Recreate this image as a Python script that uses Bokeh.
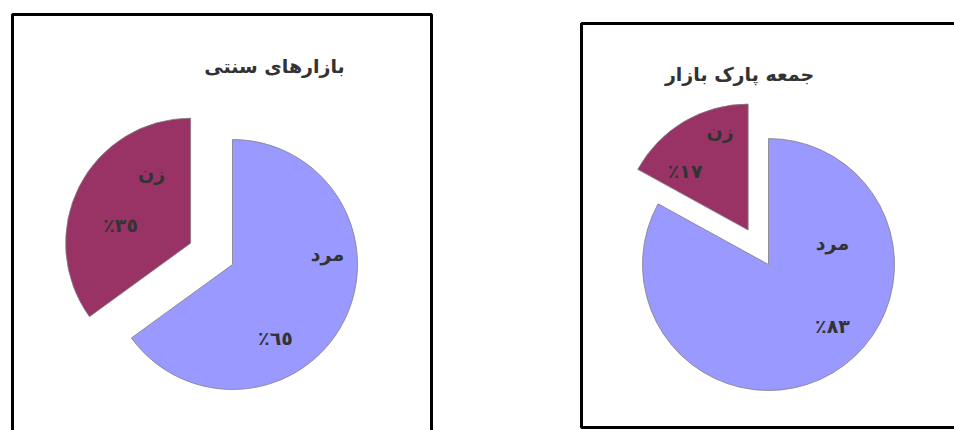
import math
from bokeh.plotting import figure
from bokeh.models import Range1d, ColumnDataSource
from bokeh.embed import file_html
from bokeh.resources import INLINE
from bokeh.core.properties import value

# ---- data ----
categories = ["مرد", "زن"]
traditional_values = [65, 35]
friday_values = [83, 17]
traditional_pct_labels = ["٪٦٥", "٪٣٥"]
friday_pct_labels = ["٪٨٣", "٪١٧"]
chart_titles = ["بازارهای سنتی", "جمعه پارک بازار"]

# ---- layout / style constants ----
W, H = 954, 430
colors = ["#9999FF", "#993366"]
FONT = value("DejaVu Sans")

charts = [
    dict(values=traditional_values, pcts=traditional_pct_labels, title=chart_titles[0],
         cx=232, cy=H - 264, r=125, explode=[0, 47],
         name_off=[(95, 11), (-39, 70)], pct_off=[(43, -73), (-70, 18)],
         title_xy=(274, H - 65),
         frame=(12, 431, H - 14, -10)),
    dict(values=friday_values, pcts=friday_pct_labels, title=chart_titles[1],
         cx=768, cy=H - 264, r=126, explode=[0, 40],
         name_off=[(64, 22), (-28, 99)], pct_off=[(64, -61), (-63, 59)],
         title_xy=(739, H - 73),
         frame=(581, 970, H - 23, H - 427)),
]

p = figure(width=W, height=H, x_range=Range1d(0, W), y_range=Range1d(0, H),
           output_backend="svg", toolbar_location=None, min_border=0,
           background_fill_color="white", border_fill_color="white")
p.axis.visible = False
p.xgrid.visible = False
p.ygrid.visible = False
p.outline_line_color = None

for ch in charts:
    vals = ch["values"]
    total = float(sum(vals))
    start = math.pi / 2
    wx, wy, sa, ea, fc = [], [], [], [], []
    tx, ty, tt = [], [], []
    for i, v in enumerate(vals):
        sweep = 2 * math.pi * v / total
        end = start - sweep
        mid = (start + end) / 2
        ox = ch["cx"] + ch["explode"][i] * math.cos(mid)
        oy = ch["cy"] + ch["explode"][i] * math.sin(mid)
        wx.append(ox); wy.append(oy)
        sa.append(end); ea.append(start)
        fc.append(colors[i])
        nx, ny = ch["name_off"][i]
        px, py = ch["pct_off"][i]
        tx += [ox + nx, ox + px]
        ty += [oy + ny, oy + py]
        tt += [categories[i], ch["pcts"][i]]
        start = end
    src = ColumnDataSource(dict(x=wx, y=wy, sa=sa, ea=ea, fc=fc))
    p.wedge(x="x", y="y", radius=ch["r"], start_angle="sa", end_angle="ea",
            fill_color="fc", line_color="#808080", line_width=0.8, source=src)
    p.text(x=tx, y=ty, text=tt, text_font=FONT, text_font_style="bold",
           text_font_size="19px", text_color="#333333",
           text_align="center", text_baseline="middle")
    p.text(x=[ch["title_xy"][0]], y=[ch["title_xy"][1]], text=[ch["title"]],
           text_font=FONT, text_font_style="bold", text_font_size="19px",
           text_color="#333333", text_align="center", text_baseline="middle")
    l, r, t, b = ch["frame"]
    p.quad(left=[l], right=[r], top=[t], bottom=[b], fill_color=None,
           line_color="black", line_width=3)

open("out.html", "w").write(file_html(p, INLINE))
